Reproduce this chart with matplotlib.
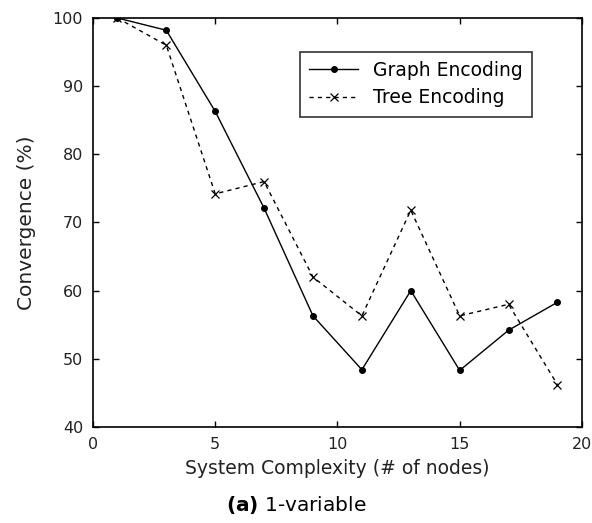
import matplotlib.pyplot as plt

plt.rcParams['font.family'] = ['DejaVu Sans']

nodes = [1, 3, 5, 7, 9, 11, 13, 15, 17, 19]
graph_enc = [100, 98.2, 86.3, 72.1, 56.3, 48.4, 60.0, 48.3, 54.2, 58.3]
tree_enc = [100, 96.0, 74.2, 76.0, 62.0, 56.3, 71.8, 56.3, 58.0, 46.2]

fig = plt.figure(figsize=(5.92, 5.23), dpi=100)
ax = fig.add_axes([0.157, 0.1836, 0.826, 0.782])

ax.plot(nodes, graph_enc, '-', color='black', lw=1.0, marker='o', ms=4,
        label='Graph Encoding')
ax.plot(nodes, tree_enc, '--', color='black', lw=1.0, marker='x', ms=6,
        mew=0.9, dashes=(3, 3), label='Tree Encoding')

ax.set_xlim(0, 20)
ax.set_ylim(40, 100)
ax.set_xticks([0, 5, 10, 15, 20])
ax.set_yticks([40, 50, 60, 70, 80, 90, 100])
ax.tick_params(direction='in', top=True, right=True, labelsize=11.5, length=4,
               width=1.0, pad=7, labelcolor='#222222')
for s in ax.spines.values():
    s.set_linewidth(1.2)

ax.set_xlabel('System Complexity (# of nodes)', fontsize=13.5, labelpad=5,
              color='#222222')
ax.set_ylabel('Convergence (%)', fontsize=14.5, labelpad=12, color='#222222')

leg = ax.legend(loc='upper left', bbox_to_anchor=(0.423, 0.918), fontsize=13.5,
                frameon=True, fancybox=False, edgecolor='black',
                handlelength=2.6, handletextpad=0.8, borderpad=0.5,
                labelspacing=0.45, borderaxespad=0)
leg.get_frame().set_linewidth(1.2)

fig.text(0.5, 0.022, r'$\bf{(a)}$ 1-variable', ha='center', fontsize=14.5)

fig.savefig('out.png', dpi=100)
